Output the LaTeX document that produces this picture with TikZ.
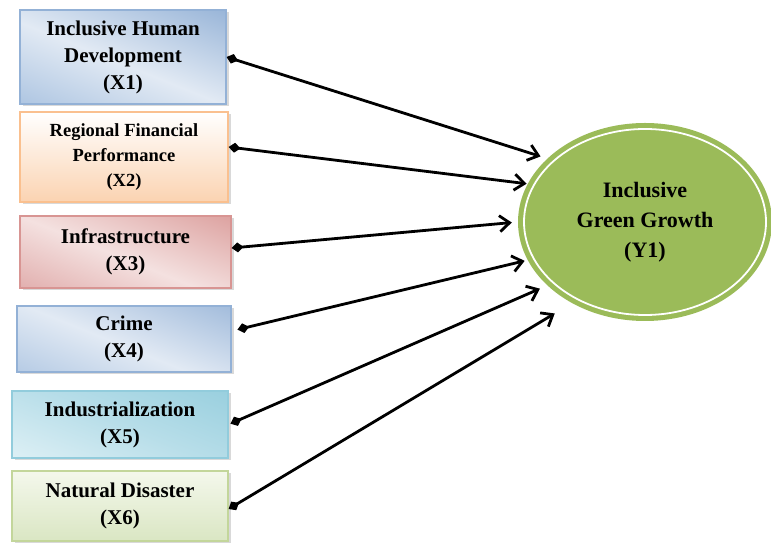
\documentclass[tikz,border=0pt]{standalone}
\usepackage{fontspec}
\setmainfont{Liberation Serif}
\usetikzlibrary{shapes.geometric, arrows.meta, shadows}
\definecolor{bluedark}{HTML}{93B1D6}
\definecolor{bluemid}{HTML}{A9C2E0}
\definecolor{bluelight}{HTML}{E2EAF4}
\definecolor{orangeline}{HTML}{FAC08F}
\definecolor{orangefill}{HTML}{FBD3B1}
\definecolor{reddark}{HTML}{D89593}
\definecolor{redmid}{HTML}{DDA3A2}
\definecolor{redlight}{HTML}{F4E1E0}
\definecolor{cyandark}{HTML}{92CCDC}
\definecolor{cyanmid}{HTML}{B8DEE9}
\definecolor{cyanlight}{HTML}{E0F1F6}
\definecolor{greenline}{HTML}{C3D69B}
\definecolor{greenlight}{HTML}{F4F8EC}
\definecolor{greenmid}{HTML}{DAE6C3}
\definecolor{greenfill}{HTML}{9BBB59}
\pgfdeclareverticalshading{bluediag}{100bp}{color(0bp)=(bluemid); color(36bp)=(bluemid);
    color(49bp)=(bluelight); color(64bp)=(bluedark); color(100bp)=(bluedark)}
\pgfdeclareverticalshading{reddiag}{100bp}{color(0bp)=(redmid); color(36bp)=(redmid);
    color(49bp)=(redlight); color(64bp)=(reddark); color(100bp)=(reddark)}
\pgfdeclareverticalshading{cyandiag}{100bp}{color(0bp)=(cyanlight); color(38bp)=(cyanlight);
    color(50bp)=(cyanmid); color(64bp)=(cyandark); color(100bp)=(cyandark)}
\newcommand{\diagfill}[1]{%
    \shade[shading=#1, shading angle=-22]
    ([shift={(-160pt,-160pt)}]path picture bounding box.center) rectangle ++(320pt,320pt);}
\tikzstyle{factor} = [
    rectangle,
    line width=1.2pt,
    align=center,
    inner sep=0pt,
    font=\fontsize{21}{27}\selectfont\bfseries,
    drop shadow={shadow xshift=2.5pt, shadow yshift=-2.5pt, opacity=0.3}
]
\tikzstyle{bluebox} = [
    factor,
    draw=bluedark,
    path picture={\diagfill{bluediag}}
]
\tikzstyle{orangebox} = [
    factor,
    draw=orangeline,
    top color=white,
    bottom color=orangefill
]
\tikzstyle{redbox} = [
    factor,
    draw=reddark,
    path picture={\diagfill{reddiag}}
]
\tikzstyle{cyanbox} = [
    factor,
    draw=cyandark,
    path picture={\diagfill{cyandiag}}
]
\tikzstyle{greenbox} = [
    factor,
    draw=greenline,
    top color=greenlight,
    bottom color=greenmid
]
\tikzstyle{outcome} = [
    ellipse,
    fill=greenfill,
    minimum width=254pt,
    minimum height=198pt,
    align=center,
    font=\fontsize{22}{30}\selectfont\bfseries
]
\tikzstyle{arrow} = [line width=2.8pt, {Diamond[length=12pt,width=10pt]}-{Straight Barb[length=10pt,width=16pt]}]

\begin{document}
\begin{tikzpicture}[x=1pt, y=1pt]

\useasboundingbox (0,0) rectangle (771,543);

\node (x1) [bluebox, minimum width=206pt, minimum height=94pt] at (123,486)
{Inclusive Human\\Development\\(X1)};

\node (x2) [orangebox, minimum width=208pt, minimum height=90pt,
    font=\fontsize{18.5}{25}\selectfont\bfseries] at (124,386)
{Regional Financial\\Performance\\(X2)};

\node (x3) [redbox, minimum width=211pt, minimum height=72pt] at (125.5,291)
{Infrastructure\\(X3)};

\node (x4) [bluebox, minimum width=214pt, minimum height=66pt] at (124,204)
{Crime\\(X4)};

\node (x5) [cyanbox, minimum width=216pt, minimum height=67pt] at (120,118.5)
{Industrialization\\(X5)};

\node (x6) [greenbox, minimum width=216pt, minimum height=70pt] at (120,37)
{Natural Disaster\\(X6)};

\node (y1) [outcome] at (645,321) {Inclusive\\Green Growth\\(Y1)};
\draw [white, line width=1.8pt] (y1.center) ellipse [x radius=121pt, y radius=93pt];

\draw [arrow, shorten >=7pt] (x1.east) -- (y1.147);
\draw [arrow, shorten >=1pt] ([yshift=10pt]x2.east) -- (y1.162);
\draw [arrow, shorten >=6pt] ([yshift=4pt]x3.east) -- (y1.180);
\draw [arrow, shorten <=6pt, shorten >=3pt] ([yshift=8pt]x4.east) -- (y1.198);
\draw [arrow, shorten <=2pt, shorten >=8pt] (x5.east) -- (y1.213);
\draw [arrow, shorten >=20pt] ([yshift=-3pt]x6.east) -- (y1.228);

\end{tikzpicture}
\end{document}
